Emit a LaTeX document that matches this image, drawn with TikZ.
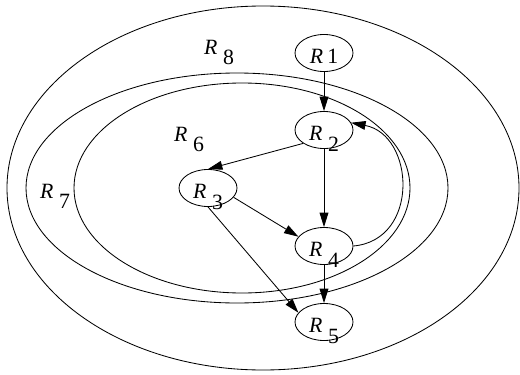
\documentclass[tikz,border=0pt]{standalone}
\usepackage{fontspec}
\setmainfont{Liberation Serif}
\usepackage{tikz}
\usetikzlibrary{arrows.meta,positioning,shapes.geometric}

\newcommand{\rlab}[1]{\textit{R}\hspace{4pt}\smash{\raisebox{-0.5em}{#1}}}

\begin{document}
\begin{tikzpicture}[x=0.025cm, y=-0.025cm, line width=0.6pt,
    font=\fontsize{15.5}{18}\selectfont,
    blk/.style={ellipse,draw,inner sep=0pt,minimum width=1.45cm,minimum height=0.925cm,text height=15pt,text depth=0pt}]
    \useasboundingbox (0,0) rectangle (520,375);

    % regions
    \draw (263,188) ellipse [x radius=256, y radius=182];
    \draw (237,188) ellipse [x radius=211, y radius=115];
    \draw (242,188) ellipse [x radius=168, y radius=105];
    \node[anchor=base west] (l8) at (199,54) {\rlab{8}};
    \node[anchor=base west] (l6) at (169,141) {\rlab{6}};
    \node[anchor=base west] (l7) at (35,198) {\rlab{7}};

    % blocks
    \node[blk] (r1) at (324,53) {\textit{R}\hspace{3pt}1};
    \node[blk] (r2) at (324,130) {\rlab{2}};
    \node[blk] (r3) at (208,188) {\rlab{3}};
    \node[blk] (r4) at (324,246) {\rlab{4}};
    \node[blk] (r5) at (324,322) {\rlab{5}};

    \foreach \u/\v in {r1.south/r2.north, r2.south/r4.north, r4.south/r5.north,
                       r2.south west/r3.north, r3.-20/r4.160, r3.south/r5.160}{
      \draw[-{Triangle[length=3.6mm,width=2.2mm]}] (\u) -- (\v);
    }
    \draw[-{Triangle[length=3.6mm,width=2.2mm]}] (r4.east) .. controls (420,240) and (415,135) .. (r2.15);
\end{tikzpicture}
\end{document}
